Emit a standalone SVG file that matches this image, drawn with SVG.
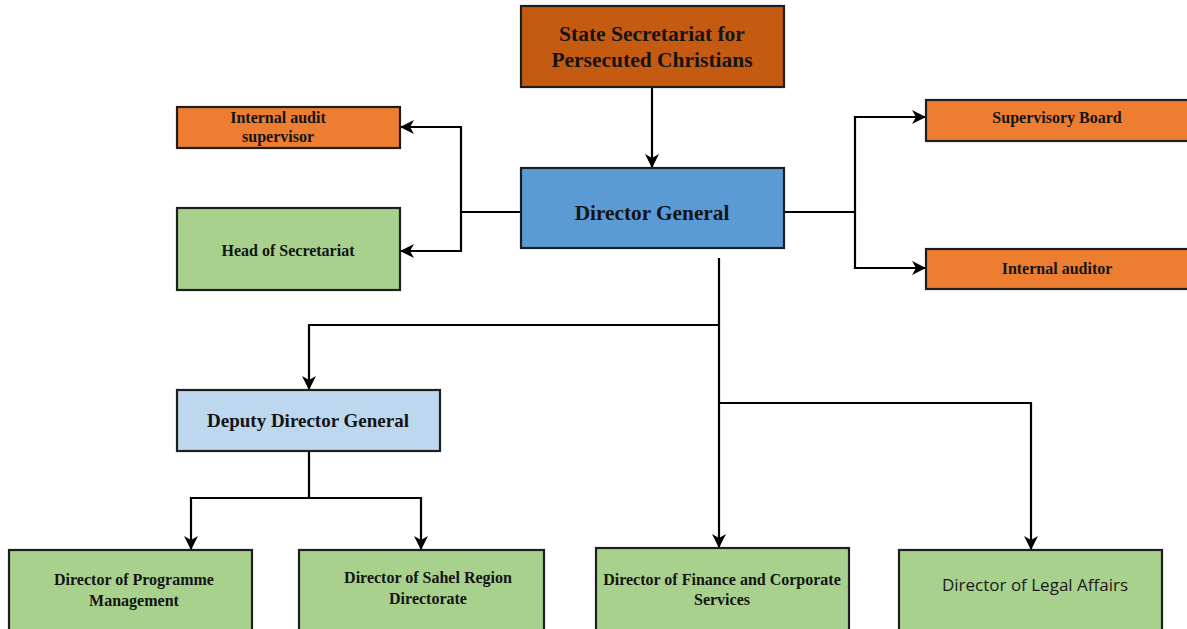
<svg xmlns="http://www.w3.org/2000/svg" width="1187" height="629" viewBox="0 0 1187 629">
<style>
.box{stroke:#1e1e1e;stroke-width:2.2}
.t{font-family:"Liberation Serif",serif;font-weight:bold;fill:#141414;text-anchor:middle;font-size:16px}
.c{fill:none;stroke:#000;stroke-width:2.2}
</style>
<defs>
<marker id="ah" viewBox="0 0 14 14" refX="13" refY="7" markerWidth="14" markerHeight="14" markerUnits="userSpaceOnUse" orient="auto">
<path d="M0,0 L14,7 L0,14 L4,7 Z" fill="#000"/>
</marker>
</defs>
<rect width="1187" height="629" fill="#fff"/>
<g id="connectors">
<path class="c" d="M652,87 V167" marker-end="url(#ah)"/>
<path class="c" d="M521,212 H461 V127 H401" marker-end="url(#ah)"/>
<path class="c" d="M461,212 V251 H401" marker-end="url(#ah)"/>
<path class="c" d="M784,212 H855 V117 H925" marker-end="url(#ah)"/>
<path class="c" d="M855,212 V268 H925" marker-end="url(#ah)"/>
<path class="c" d="M719,258 V325 H309 V389" marker-end="url(#ah)"/>
<path class="c" d="M719,325 V547" marker-end="url(#ah)"/>
<path class="c" d="M719,403 H1031 V549" marker-end="url(#ah)"/>
<path class="c" d="M309,451 V498 H191 V549" marker-end="url(#ah)"/>
<path class="c" d="M309,498 H421 V549" marker-end="url(#ah)"/>
</g>
<g id="state-secretariat">
<rect class="box" x="521" y="6" width="263" height="81" fill="#C55A11"/>
<text class="t" x="652" y="41" style="font-size:21.5px">State Secretariat for</text>
<text class="t" x="652" y="67" style="font-size:21.5px">Persecuted Christians</text>
</g>
<g id="director-general">
<rect class="box" x="521" y="168" width="263" height="80" fill="#5B9BD5"/>
<text class="t" x="652" y="220" style="font-size:21.3px">Director General</text>
</g>
<g id="internal-audit-supervisor">
<rect class="box" x="177" y="107" width="223" height="41" fill="#ED7D31"/>
<text class="t" x="278" y="123">Internal audit</text>
<text class="t" x="278" y="142">supervisor</text>
</g>
<g id="head-of-secretariat">
<rect class="box" x="177" y="208" width="223" height="82" fill="#A9D18E"/>
<text class="t" x="288" y="256">Head of Secretariat</text>
</g>
<g id="supervisory-board">
<rect class="box" x="926" y="100" width="264" height="41" fill="#ED7D31"/>
<text class="t" x="1057" y="123">Supervisory Board</text>
</g>
<g id="internal-auditor">
<rect class="box" x="926" y="249" width="264" height="40" fill="#ED7D31"/>
<text class="t" x="1057" y="274">Internal auditor</text>
</g>
<g id="deputy-director-general">
<rect class="box" x="177" y="390" width="263" height="61" fill="#BDD7EE"/>
<text class="t" x="308" y="427" style="font-size:19px">Deputy Director General</text>
</g>
<g id="programme-management">
<rect class="box" x="9" y="550" width="243" height="82" fill="#A9D18E"/>
<text class="t" x="134" y="585">Director of Programme</text>
<text class="t" x="134" y="606">Management</text>
</g>
<g id="sahel-region">
<rect class="box" x="299" y="550" width="245" height="82" fill="#A9D18E"/>
<text class="t" x="428" y="583">Director of Sahel Region</text>
<text class="t" x="428" y="604">Directorate</text>
</g>
<g id="finance-corporate">
<rect class="box" x="596" y="548" width="253" height="84" fill="#A9D18E"/>
<text class="t" x="722" y="585">Director of Finance and Corporate</text>
<text class="t" x="722" y="605">Services</text>
</g>
<g id="legal-affairs">
<rect class="box" x="899" y="550" width="263" height="82" fill="#A9D18E"/>
<text x="1035" y="591" font-size="17" font-family="'Open Sans','Noto Sans',sans-serif" fill="#1a1a1a" text-anchor="middle">Director of Legal Affairs</text>
</g>
</svg>
